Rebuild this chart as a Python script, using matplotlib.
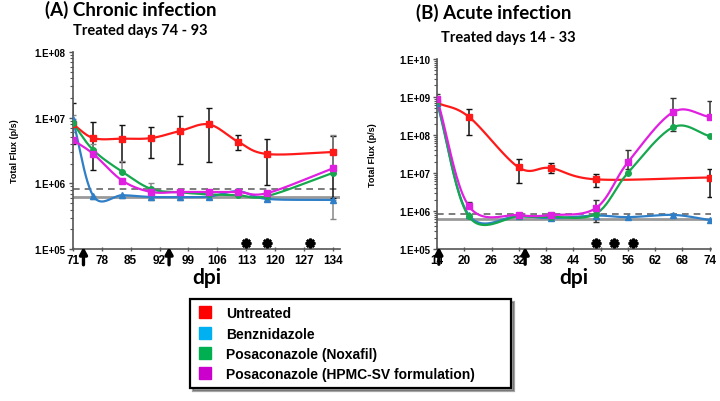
import numpy as np
import matplotlib.pyplot as plt
from matplotlib.lines import Line2D
from matplotlib.ticker import FuncFormatter, LogLocator, NullFormatter

plt.rcParams['font.family'] = ['Liberation Sans', 'DejaVu Sans']

# ---- data: panel A (chronic) ----
a_days = [71, 76, 83, 90, 97, 104, 111, 118, 134]
a_untreated = [8.0e6, 4.9e6, 4.8e6, 4.9e6, 6.3e6, 7.9e6, 4.3e6, 2.8e6, 3.0e6]
a_untr_hi = [1.7e7, 8.5e6, 7.7e6, 7.2e6, 1.06e7, 1.4e7, 5.4e6, 4.7e6, 5.2e6]
a_untr_lo = [4.0e6, 1.6e6, 2.1e6, 2.4e6, 2.0e6, 2.1e6, 3.2e6, 9.4e5, 6.0e5]
a_benz = [9.5e6, 6.4e5, 6.6e5, 6.2e5, 6.2e5, 6.3e5, 7.6e5, 5.8e5, 5.6e5]
a_benz_lo = [6.0e6, 5.8e5, 6.0e5, 5.6e5, 5.6e5, 5.8e5, 6.6e5, 5.3e5, 2.9e5]
a_noxa = [8.3e6, 3.2e6, 1.5e6, 8.2e5, 7.3e5, 6.8e5, 6.6e5, 6.4e5, 1.45e6]
a_noxa_hi = [1.1e7, 4.0e6, 2.2e6, 1.0e6, 8.0e5, 7.5e5, 8.2e5, 7.0e5, 5.5e6]
a_hpmc = [4.6e6, 2.8e6, 1.1e6, 7.4e5, 7.4e5, 7.4e5, 7.4e5, 7.1e5, 1.7e6]
a_arrows = [73.6, 94.3]
a_stars = [113, 118, 128.4]
a_xticks = [71, 78, 85, 92, 99, 106, 113, 120, 127, 134]

# ---- data: panel B (acute) ----
b_days = [14, 21, 32, 39, 49, 56, 66, 74]
b_untreated = [7.0e8, 3.0e8, 1.4e7, 1.35e7, 6.8e6, None, None, 7.6e6]
b_untr_hi = [None, 4.8e8, 2.3e7, 1.8e7, 9.4e6, None, None, 1.27e7]
b_untr_lo = [None, 1.0e8, 5.4e6, 1.0e7, 4.3e6, None, None, 2.4e6]
b_benz = [7.0e8, 7.8e5, 7.5e5, 6.5e5, 7.6e5, 6.9e5, 7.9e5, 5.8e5]
b_noxa = [8.0e8, 7.2e5, 7.2e5, 7.0e5, 8.5e5, 1.0e7, 1.6e8, 9.4e7]
b_hpmc = [9.0e8, 1.35e6, 7.8e5, 7.8e5, 1.2e6, 1.9e7, 4.0e8, 3.0e8]
b_hpmc_hi = [1.2e9, 1.7e6, 9.0e5, 8.5e5, 1.9e6, 4.0e7, 9.3e8, 7.8e8]
b_hpmc_lo = [None, None, None, None, 5.1e5, 1.3e7, 1.3e8, None]
b_arrows = [14.4, 33.4]
b_stars = [49, 52.9, 57.2]
b_xticks = [14, 20, 26, 32, 38, 44, 50, 56, 62, 68, 74]

dashed_level = 8.3e5
solid_level = 6.3e5

labels = ['Untreated', 'Benznidazole', 'Posaconazole (Noxafil)',
          'Posaconazole (HPMC-SV formulation)']
line_colors = ['#ff1a1a', '#2f7fc8', '#16a84f', '#e020e0']
legend_colors = ['#ff0000', '#00b0f0', '#00b050', '#cc00cc']
markers = ['s', '^', 'o', 's']


def smooth(x, y, xr, yr, n=24):
    # Catmull-Rom through the points, done in normalised (x, log y) space
    pts = [(xi, np.log10(yi)) for xi, yi in zip(x, y) if yi is not None]
    p = np.array(pts)
    s = np.array([xr, yr])
    q = p / s
    q = np.vstack([2 * q[0] - q[1], q, 2 * q[-1] - q[-2]])
    out = []
    t = np.linspace(0, 1, n)[:, None]
    for i in range(1, len(q) - 2):
        p0, p1, p2, p3 = q[i - 1], q[i], q[i + 1], q[i + 2]
        c = 0.5 * ((2 * p1) + (-p0 + p2) * t + (2 * p0 - 5 * p1 + 4 * p2 - p3) * t ** 2
                   + (-p0 + 3 * p1 - 3 * p2 + p3) * t ** 3)
        out.append(c)
    c = np.vstack(out) * s
    return c[:, 0], 10 ** c[:, 1]


def efmt(v, pos):
    return '1.E+%02d' % int(round(np.log10(v)))


def style_axes(ax, xlim, ylim, xticks):
    ax.set_yscale('log')
    ax.set_xlim(*xlim)
    ax.set_ylim(*ylim)
    for sp in ['top', 'right']:
        ax.spines[sp].set_visible(False)
    for sp in ['left', 'bottom']:
        ax.spines[sp].set_color('#555555')
        ax.spines[sp].set_linewidth(1.2)
    ax.set_xticks(xticks)
    ax.set_xticklabels([str(t) for t in xticks], fontsize=8.5, fontweight='bold')
    ax.yaxis.set_major_formatter(FuncFormatter(efmt))
    ax.yaxis.set_minor_locator(LogLocator(base=10, subs=np.arange(2, 10)))
    ax.yaxis.set_minor_formatter(NullFormatter())
    ax.tick_params(axis='y', labelsize=7, length=3, width=1, colors='#555555',
                   labelcolor='black', pad=2)
    ax.tick_params(axis='y', which='minor', length=2, width=0.8, colors='#555555')
    ax.tick_params(axis='x', length=3, width=1, colors='#555555', labelcolor='black',
                   pad=2, direction='inout')
    for lab in ax.get_yticklabels():
        lab.set_fontweight('bold')
    ax.set_ylabel('Total Flux (p/s)', fontsize=6.5, fontweight='bold', labelpad=4)
    ax.set_xlabel('dpi', fontsize=15, fontweight='bold', fontfamily='Lato', labelpad=1)
    ax.axhline(dashed_level, color='#666666', lw=1.2, ls=(0, (4, 3)), zorder=1)
    ax.axhline(solid_level, color='#999999', lw=2, zorder=1)


def err(ax, x, y, hi, lo, color):
    for xi, yi, h, l in zip(x, y, hi, lo):
        if yi is None:
            continue
        up = (h - yi) if h is not None else 0
        dn = (yi - l) if l is not None else 0
        ax.errorbar([xi], [yi], yerr=[[dn], [up]], fmt='none', ecolor=color,
                    elinewidth=1.1, capsize=2.5, capthick=1, zorder=2)


def draw_panel(ax, days, series, xr, yr):
    for ys, col, mk in zip(series, line_colors, markers):
        sx, sy = smooth(days, ys, xr, yr)
        ax.plot(sx, sy, color=col, lw=1.6, zorder=3)
        px = [d for d, v in zip(days, ys) if v is not None]
        py = [v for v in ys if v is not None]
        ax.plot(px, py, ls='none', marker=mk, ms=4, color=col, zorder=4)


def arrows_stars(ax, arrows, stars, ystar):
    for a in arrows:
        ax.annotate('', xy=(a, 0.01), xycoords=('data', 'axes fraction'),
                    xytext=(a, -0.08), textcoords=('data', 'axes fraction'),
                    arrowprops=dict(arrowstyle='-|>,head_width=0.22,head_length=0.4',
                                    color='black', lw=2.4, shrinkA=0, shrinkB=0),
                    annotation_clip=False)
    ax.plot(stars, [ystar] * len(stars), ls='none', marker=(8, 2, 0), ms=7,
            mew=1.8, color='black', zorder=5, clip_on=False)


fig = plt.figure(figsize=(7.2, 4.02), dpi=100)

# panel A
axA = fig.add_axes([0.101, 0.378, 0.371, 0.49])
style_axes(axA, (71, 135.6), (1e5, 1e8), a_xticks)
err(axA, a_days, a_untreated, a_untr_hi, a_untr_lo, '#111111')
err(axA, a_days, a_noxa, a_noxa_hi, [None] * 9, '#888888')
err(axA, a_days, a_benz, [None] * 9, a_benz_lo, '#888888')
draw_panel(axA, a_days, [a_untreated, a_benz, a_noxa, a_hpmc], 65.0, 3.0)
arrows_stars(axA, a_arrows, a_stars, 1.22e5)
axA.yaxis.set_label_coords(-0.2, 0.5)

# panel B
axB = fig.add_axes([0.607, 0.378, 0.381, 0.473])
style_axes(axB, (14, 74.4), (1e5, 1e10), b_xticks)
err(axB, b_days, b_untreated, b_untr_hi, b_untr_lo, '#111111')
err(axB, b_days, b_hpmc, b_hpmc_hi, b_hpmc_lo, '#333333')
draw_panel(axB, b_days, [b_untreated, b_benz, b_noxa, b_hpmc], 60.0, 5.0)
arrows_stars(axB, b_arrows, b_stars, 1.4e5)
axB.yaxis.set_label_coords(-0.22, 0.5)

# titles
fig.text(0.182, 0.975, '(A) Chronic infection', ha='center', va='center',
         fontsize=13.5, fontweight='bold', fontfamily='Lato')
fig.text(0.195, 0.922, 'Treated days 74 - 93', ha='center', va='center',
         fontsize=10.5, fontweight='bold', fontfamily='Lato')
fig.text(0.685, 0.968, '(B) Acute infection', ha='center', va='center',
         fontsize=13.5, fontweight='bold', fontfamily='Lato')
fig.text(0.706, 0.905, 'Treated days 14 - 33', ha='center', va='center',
         fontsize=10.5, fontweight='bold', fontfamily='Lato')

# legend
handles = [Line2D([], [], ls='none', marker='s', ms=9, color=c) for c in legend_colors]
leg = fig.legend(handles, labels, loc='lower left',
                 bbox_to_anchor=(0.254, 0.015, 0.465, 0.224), mode='expand',
                 frameon=True, fancybox=False, shadow=True,
                 edgecolor='black', labelspacing=0.45, handletextpad=0.9,
                 borderpad=0.5, handlelength=1.2, prop={'weight': 'bold', 'size': 10})
leg.get_frame().set_linewidth(1.6)

fig.savefig('out.png', dpi=100)
